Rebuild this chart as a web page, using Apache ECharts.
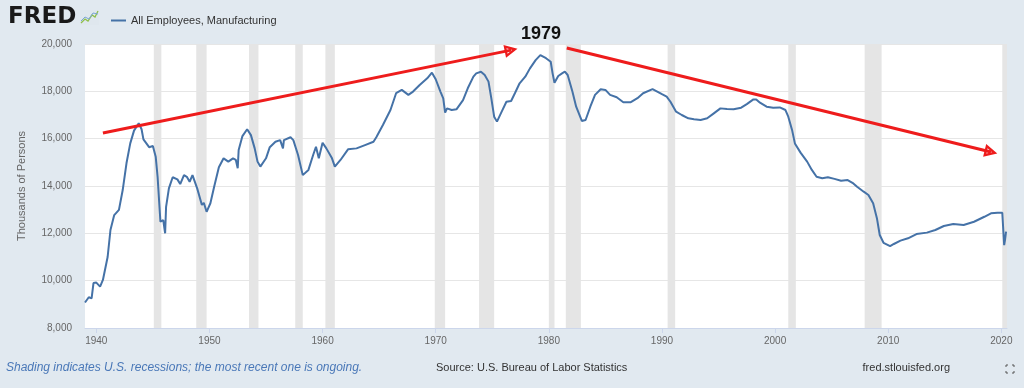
<!DOCTYPE html>
<html>
<head>
<meta charset="utf-8">
<script src="https://cdn.jsdelivr.net/npm/echarts@6/dist/echarts.min.js"></script>
<style>
html,body{margin:0;padding:0;background:#e1e9f0;}
#c{width:1024px;height:388px;}
</style>
</head>
<body>
<div id="c"></div>
<script>
// ---- data ----
const seriesName = 'All Employees, Manufacturing';
const dates = ['1939-01','1939-05','1939-08','1939-10','1940-01','1940-05','1940-08','1941-01','1941-04','1941-08',
'1942-01','1942-05','1942-09','1943-01','1943-05','1943-10','1944-01','1944-03','1944-09','1945-01',
'1945-04','1945-06','1945-09','1945-12','1946-02','1946-03','1946-06','1946-10','1947-03','1947-06',
'1947-10','1948-01','1948-04','1948-07','1948-12','1949-05','1949-07','1949-10','1950-02','1950-06',
'1950-11','1951-04','1951-09','1952-02','1952-05','1952-07','1952-08','1952-12','1953-05','1953-09',
'1954-01','1954-04','1954-07','1955-01','1955-05','1955-11','1956-04','1956-07','1956-08','1957-03',
'1957-06','1957-11','1958-04','1958-10','1959-03','1959-06','1959-09','1960-01','1960-05','1960-11',
'1961-02','1961-08','1962-04','1963-01','1963-10','1964-07','1964-10','1965-05','1966-01','1966-07',
'1967-01','1967-08','1968-01','1968-08','1969-04','1969-09','1970-01','1970-06','1970-09','1970-11',
'1971-01','1971-06','1971-11','1972-06','1972-11','1973-05','1973-08','1974-01','1974-05','1974-09',
'1974-12','1975-03','1975-06','1975-11','1976-04','1976-09','1977-01','1977-06','1977-12','1978-05',
'1978-11','1979-04','1979-06','1979-10','1980-03','1980-05','1980-07','1980-11','1981-03','1981-06',
'1981-09','1982-02','1982-06','1982-12','1983-04','1983-09','1984-02','1984-08','1985-01','1985-06',
'1986-01','1986-08','1987-04','1987-11','1988-05','1989-03','1989-08','1990-01','1990-06','1990-10',
'1991-04','1991-10','1992-05','1992-11','1993-06','1994-01','1994-08','1995-03','1995-10','1996-05',
'1997-01','1997-07','1998-02','1998-05','1998-09','1999-04','1999-11','2000-06','2000-12','2001-03',
'2001-07','2001-10','2002-04','2002-11','2003-04','2003-09','2004-03','2004-09','2005-04','2005-11',
'2006-06','2006-12','2007-04','2007-11','2008-04','2008-09','2009-01','2009-04','2009-08','2010-03',
'2010-07','2011-02','2011-10','2012-07','2013-06','2014-03','2014-12','2015-10','2016-09','2017-08',
'2018-07','2019-02','2019-09','2020-02','2020-03','2020-04','2020-05','2020-06'];
const values = [9077,9300,9250,9900,9920,9750,10030,11000,12140,12770,
12990,13830,14960,15800,16340,16650,16400,15970,15640,15690,
15240,14390,12490,12560,12000,13120,13900,14370,14280,14080,
14460,14390,14180,14460,13900,13200,13290,12910,13270,13970,
14790,15170,15030,15170,15100,14750,15520,16110,16400,16150,
15590,15030,14820,15170,15640,15870,15940,15590,15940,16060,
15940,15310,14460,14680,15310,15660,15170,15830,15590,15170,
14820,15100,15550,15590,15730,15870,16060,16580,17210,17920,
18060,17850,17990,18270,18550,18790,18510,17990,17700,17100,
17280,17210,17240,17630,18130,18620,18760,18830,18690,18410,
17700,16930,16720,17140,17560,17590,17920,18340,18620,18970,
19320,19530,19580,19400,19250,18760,18360,18650,18760,18830,
18690,17990,17350,16750,16790,17350,17850,18090,18060,17850,
17750,17540,17540,17710,17920,18090,17990,17880,17780,17560,
17140,17000,16860,16820,16790,16860,17070,17280,17250,17240,
17310,17460,17660,17660,17520,17350,17310,17320,17210,16930,
16370,15800,15410,15030,14680,14390,14330,14370,14300,14220,
14250,14110,13970,13760,13620,13270,12640,11930,11600,11460,
11550,11690,11790,11970,12030,12140,12310,12390,12350,12490,
12700,12845,12870,12870,12840,11500,11750,12070];
// NBER recessions (start, end); last one ongoing
const recessionStarts = ['1945-02','1948-11','1953-07','1957-08','1960-04','1969-12','1973-11','1980-01','1981-07','1990-07','2001-03','2007-12','2020-02'];
const recessionEnds   = ['1945-10','1949-10','1954-05','1958-04','1961-02','1970-11','1975-03','1980-07','1982-11','1991-03','2001-11','2009-06','2020-07'];
const xTickYears = [1940,1950,1960,1970,1980,1990,2000,2010,2020];
const yTicks = [8000,10000,12000,14000,16000,18000,20000];
const xMin = '1939-01', xMax = '2020-07';
// hand-drawn annotation arrows (start date, start value, end date, end value)
const arrowStarts = [['1940-08',16240],['1981-08',19830]];
const arrowEnds   = [['1976-09',19740],['2019-02',15440]];
const annotationText = '1979';

// ---- helpers ----
// month string 'YYYY-MM' -> position on a continuous year scale
function yr(s){ const p = s.split('-'); return +p[0] + (+p[1]-1)/12; }

// ---- chart ----
const chart = echarts.init(document.getElementById('c'), null, {renderer:'canvas'});
const lineData = dates.map((d,i)=>[yr(d), values[i]]);
const areas = recessionStarts.map((s,i)=>[{xAxis:yr(s)},{xAxis:yr(recessionEnds[i])}]);
const arrows = arrowStarts.map((s,i)=>[{coord:[yr(s[0]),s[1]]},{coord:[yr(arrowEnds[i][0]),arrowEnds[i][1]]}]);
const ringTriangle = 'path://M50 0 L100 100 L0 100 Z M50 42 L29 82 L71 82 Z';
const FONT = '"Liberation Sans", Arial, sans-serif';

chart.setOption({
  animation:false,
  backgroundColor:'#e1e9f0',
  textStyle:{fontFamily:FONT},
  grid:{left:85,right:17,top:44,bottom:60,show:true,backgroundColor:'#ffffff',borderWidth:0},
  legend:{
    left:106, top:10, itemWidth:15, itemHeight:2, icon:'rect', itemGap:5,
    textStyle:{fontSize:11,color:'#333333',fontFamily:FONT},
    data:[seriesName]
  },
  xAxis:{
    type:'value', min:yr(xMin), max:yr(xMax),
    axisLine:{show:true,lineStyle:{color:'#ccd6eb',width:1}},
    axisTick:{show:true,customValues:xTickYears,length:5,lineStyle:{color:'#ccd6eb'}},
    axisLabel:{customValues:xTickYears,color:'#666666',fontSize:10,margin:8,
      formatter:v=>String(Math.round(v))},
    splitLine:{show:false}
  },
  yAxis:{
    type:'value', min:yTicks[0], max:yTicks[yTicks.length-1], interval:yTicks[1]-yTicks[0],
    name:'Thousands of Persons', nameLocation:'middle', nameGap:58,
    nameTextStyle:{color:'#666666',fontSize:11,fontFamily:FONT},
    axisLine:{show:false}, axisTick:{show:false},
    axisLabel:{color:'#666666',fontSize:10,margin:13,formatter:v=>v.toLocaleString('en-US')},
    splitLine:{show:true,lineStyle:{color:'#e6e6e6',width:1}}
  },
  series:[{
    name:seriesName, type:'line', data:lineData, showSymbol:false, symbol:'none',
    lineStyle:{color:'#4572a7',width:2}, itemStyle:{color:'#4572a7'}, z:3,
    markArea:{silent:true,itemStyle:{color:'#e5e5e5',opacity:1},data:areas},
    markLine:{silent:true,symbol:['none',ringTriangle],symbolSize:[13,13],
      lineStyle:{color:'#ee1c1c',width:3,type:'solid'},label:{show:false},data:arrows}
  }],
  graphic:[
    {type:'text',left:8,top:6,style:{text:'FRED',font:'bold 23px "DejaVu Sans", sans-serif',fill:'#1a1a1a'}},
    {type:'rect',shape:{x:80,y:10,width:19,height:15},style:{fill:'#dfe7ee'}},
    {type:'polyline',shape:{points:[[81,23],[85,19],[88,21],[92,15],[95,17],[98,11]]},style:{stroke:'#8fbf4a',lineWidth:1.3,fill:null}},
    {type:'polyline',shape:{points:[[81,21],[85,17],[89,19],[93,13],[98,14]]},style:{stroke:'#7aa6d6',lineWidth:1,fill:null}},
    {type:'text',x:541,y:34,style:{text:annotationText,font:'bold 18px "Liberation Sans", Arial, sans-serif',fill:'#111111',align:'center',verticalAlign:'middle'}},
    {type:'text',x:6,y:368,style:{text:'Shading indicates U.S. recessions; the most recent one is ongoing.',font:'italic 12px "Liberation Sans", Arial, sans-serif',fill:'#4a78b8',verticalAlign:'middle'}},
    {type:'text',x:436,y:368,style:{text:'Source: U.S. Bureau of Labor Statistics',font:'11px "Liberation Sans", Arial, sans-serif',fill:'#333333',verticalAlign:'middle'}},
    {type:'text',x:950,y:368,style:{text:'fred.stlouisfed.org',font:'11px "Liberation Sans", Arial, sans-serif',fill:'#333333',align:'right',verticalAlign:'middle'}},
    {type:'polyline',shape:{points:[[1006,367],[1006,365],[1008,365]]},style:{stroke:'#555',lineWidth:1,fill:null}},
    {type:'polyline',shape:{points:[[1012,365],[1014,365],[1014,367]]},style:{stroke:'#555',lineWidth:1,fill:null}},
    {type:'polyline',shape:{points:[[1006,371],[1006,373],[1008,373]]},style:{stroke:'#555',lineWidth:1,fill:null}},
    {type:'polyline',shape:{points:[[1012,373],[1014,373],[1014,371]]},style:{stroke:'#555',lineWidth:1,fill:null}}
  ]
});
</script>
</body>
</html>
